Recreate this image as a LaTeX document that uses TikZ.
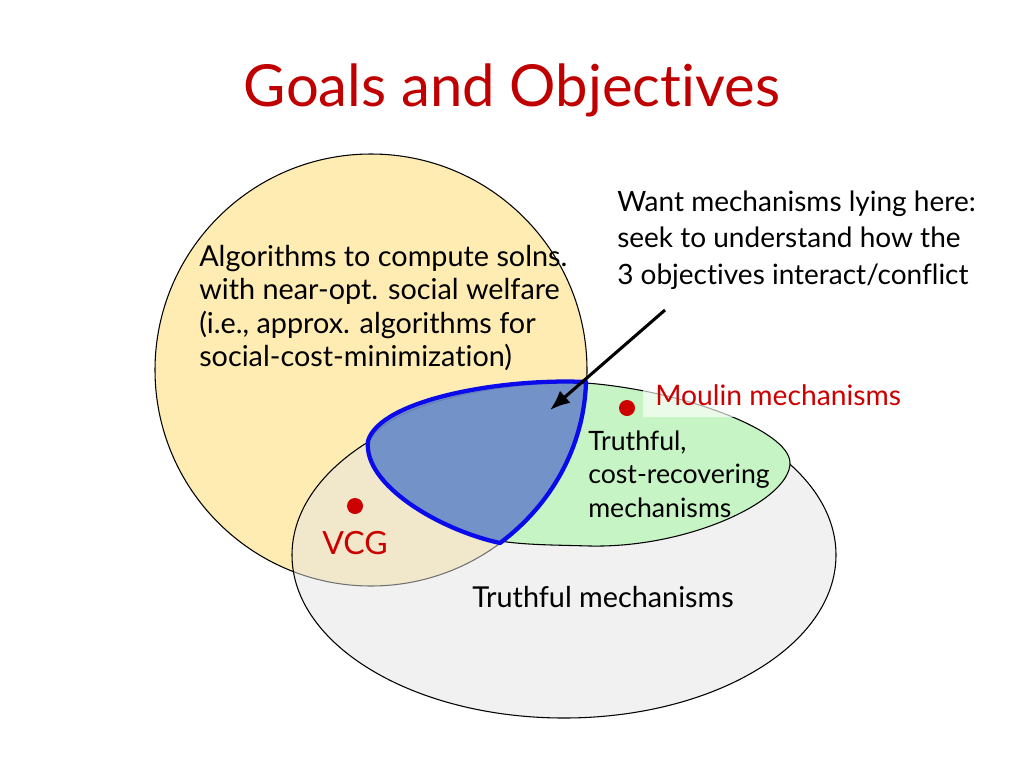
\documentclass[tikz,border=0pt]{standalone}
\usepackage{fontspec}
\setmainfont{Lato}[Ligatures={NoCommon}]
\usetikzlibrary{arrows.meta}
\definecolor{titlered}{RGB}{192,0,0}
\definecolor{dotred}{RGB}{204,0,0}
\definecolor{yellowfill}{RGB}{255,236,179}
\definecolor{grayfill}{RGB}{228,228,228}
\definecolor{greenfill}{RGB}{198,244,196}
\definecolor{bluefill}{RGB}{108,138,200}
\definecolor{blueline}{RGB}{10,10,235}
\begin{document}
\begin{tikzpicture}[x=0.75pt,y=-0.75pt,
  body/.style={inner sep=0pt, align=left, font=\fontsize{21.6}{25}\selectfont},
  redtext/.style={inner sep=0pt, text=dotred, font=\fontsize{21.2}{25}\selectfont},
  reddot/.style={fill=dotred, draw=none},
  setline/.style={draw=black, line width=0.8pt}]
\fill[white] (0,0) rectangle (1024,768);
\useasboundingbox (0,0) rectangle (1024,768);

% title
\node[text=titlered, font=\fontsize{43.5}{52}\selectfont, inner sep=0pt] (title) at (512,90) {Goals and Objectives};

% yellow circle
\path[fill=yellowfill, setline] (371,370) circle[radius=216];
% gray ellipse (semi-transparent)
\path[fill=grayfill, fill opacity=0.5] (564,555) ellipse[x radius=272, y radius=163];
\path[setline] (564,555) ellipse[x radius=272, y radius=163];
% green shape
\path[fill=greenfill, setline]
  (368,443) .. controls (385,405) and (500,380) .. (586,383)
  .. controls (680,390) and (790,430) .. (790,463)
  .. controls (790,500) and (690,548) .. (590,546)
  .. controls (555,545) and (525,545) .. (500,541)
  .. controls (440,530) and (365,485) .. (368,443) -- cycle;
% blue intersection region
\path[fill=bluefill, fill opacity=0.92, draw=blueline, line width=3.2pt, line join=round]
  (586,382) .. controls (584,447) and (551,505) .. (500,543)
  .. controls (440,530) and (363,485) .. (368,441)
  .. controls (380,400) and (500,378) .. (586,382) -- cycle;

% texts
\node[body, anchor=west] (alg) at (199,308) {Algorithms to compute solns.\\with near-opt. social welfare\\(i.e., approx. algorithms for\\social-cost-minimization)};
\node[body, anchor=west, font=\fontsize{21}{27.4}\selectfont] (want) at (617,240) {Want mechanisms lying here:\\seek to understand how the\\3 objectives interact/conflict};
\node[body, anchor=west, font=\fontsize{20}{25}\selectfont] (tcr) at (588,474) {Truthful,\\cost-recovering\\mechanisms};
\node[body, anchor=center] (tm) at (603,597) {Truthful mechanisms};

% Moulin label with translucent white box
\node[redtext, anchor=west, fill=white, fill opacity=0.65, text opacity=1,
      inner xsep=9pt, minimum height=33pt] (moulin) at (643,395) {Moulin mechanisms};
\node[redtext, anchor=center, font=\fontsize{24}{28}\selectfont] (vcg) at (355,543) {VCG};

% dots
\path[reddot] (627,408) circle[radius=8];
\path[reddot] (355,506) circle[radius=8];

% arrow
\coordinate (arrstart) at (665,310);
\coordinate (arrend) at (550,410);
\draw[line width=2.3pt, -{Latex[length=15pt,width=12pt]}] (arrstart) -- (arrend);
\end{tikzpicture}
\end{document}
